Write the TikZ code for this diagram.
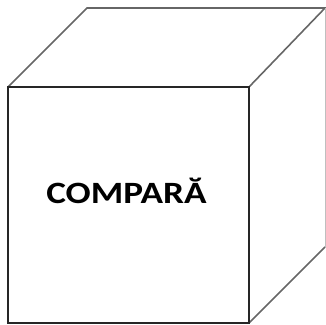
\documentclass[tikz,border=0pt]{standalone}
\usepackage{fontspec}
\setsansfont{Carlito}
\begin{document}
\begin{tikzpicture}[x=1pt,y=-1pt,line join=miter]
\tikzset{front/.style={draw=black!85,line width=1.6pt},
 edge/.style={draw=black!60,line width=1.6pt},
 back/.style={draw=black!25,line width=1pt}}
\useasboundingbox (0,0) rectangle (326,324);
% corners of the cube
\coordinate (FTL) at (8,87);
\coordinate (FTR) at (249,87);
\coordinate (FBR) at (249,323);
\coordinate (FBL) at (8,323);
\coordinate (BTL) at (87,8);
\coordinate (BTR) at (325,8);
\coordinate (BBR) at (325,247);
\draw[edge] (FTL)--(BTL)--(BTR)--(FTR);
\draw[back] (BTR)--(BBR);
\draw[edge] (BBR)--(FBR);
\draw[front] (FTL) rectangle (FBR);
\node[font=\sffamily\bfseries\fontsize{31}{31}\selectfont,inner sep=0pt] (label) at (126.5,191) {\scalebox{1.2}[1]{COMPARĂ}};
\end{tikzpicture}
\end{document}
